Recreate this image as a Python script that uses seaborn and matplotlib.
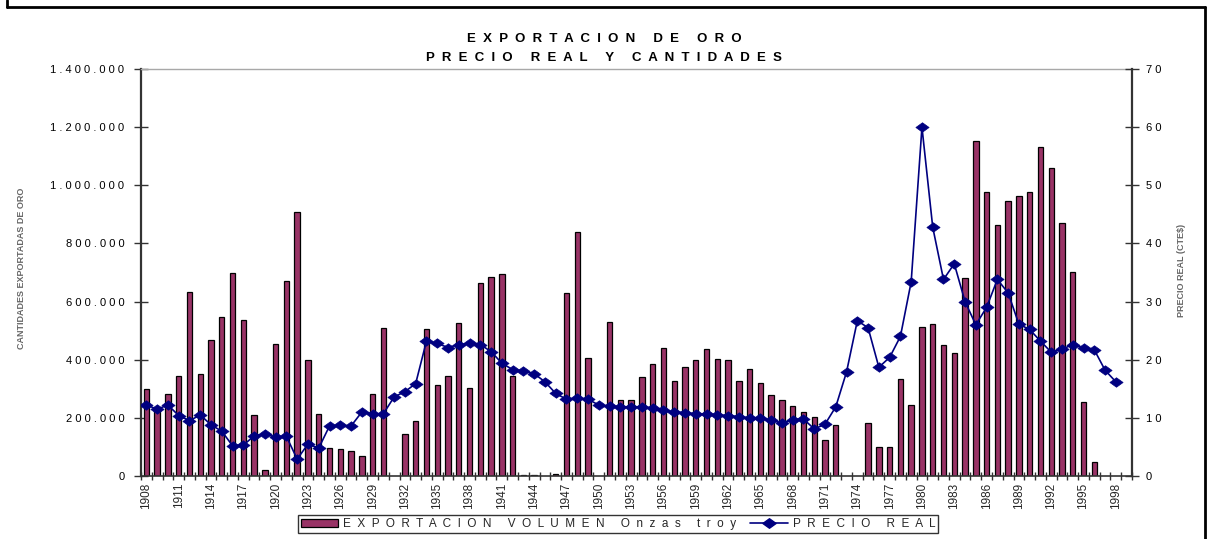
import numpy as np
import pandas as pd
import matplotlib
matplotlib.use("Agg")
import matplotlib.pyplot as plt
import seaborn as sns
from matplotlib.path import Path
from matplotlib.lines import Line2D
from matplotlib.patches import Patch

nan = np.nan
years = list(range(1908, 2000))
export_volume = [
    298000, 230000, 282000, 343000, 633000, 352000, 469000, 548000, 697000, 535000,   # 1908-1917
    210000, 20000, 454000, 672000, 908000, 400000, 213000, 97000, 92000, 86000,       # 1918-1927
    70000, 283000, 508000, nan, 144000, 190000, 507000, 312000, 343000, 525000,       # 1928-1937
    303000, 663000, 685000, 696000, 344000, 3000, 3000, nan, 8000, 628000,            # 1938-1947
    840000, 405000, nan, 529000, 261000, 261000, 342000, 384000, 439000, 327000,      # 1948-1957
    374000, 400000, 436000, 404000, 398000, 327000, 367000, 319000, 278000, 260000,   # 1958-1967
    241000, 219000, 203000, 124000, 174000, nan, nan, 181000, 99000, 99000,           # 1968-1977
    333000, 243000, 512000, 522000, 451000, 422000, 680000, 1152000, 978000, 863000,  # 1978-1987
    946000, 962000, 976000, 1131000, 1058000, 870000, 703000, 256000, 47000, nan,     # 1988-1997
    nan, nan,                                                                         # 1998-1999
]
real_price = [
    12.2, 11.5, 12.2, 10.4, 9.5, 10.5, 8.8, 7.7, 5.2, 5.3,
    6.9, 7.2, 6.7, 6.8, 2.9, 5.5, 4.8, 8.6, 8.7, 8.6,
    11.0, 10.7, 10.7, 13.6, 14.5, 15.9, 23.2, 22.8, 22.1, 22.6,
    22.8, 22.6, 21.4, 19.4, 18.3, 18.0, 17.6, 16.2, 14.2, 13.2,
    13.4, 13.2, 12.2, 12.0, 11.9, 11.9, 11.9, 11.7, 11.3, 11.0,
    10.9, 10.7, 10.6, 10.5, 10.4, 10.2, 10.0, 9.9, 9.6, 9.1,
    9.7, 9.8, 8.1, 8.9, 11.9, 17.9, 26.7, 25.5, 18.7, 20.4,
    24.0, 33.4, 60.0, 42.8, 33.8, 36.5, 30.0, 26.0, 29.0, 33.8,
    31.5, 26.1, 25.2, 23.2, 21.3, 21.8, 22.6, 22.0, 21.7, 18.2,
    16.2, nan,
]
left_ticks = [0, 200000, 400000, 600000, 800000, 1000000, 1200000, 1400000]
right_ticks = [0, 10, 20, 30, 40, 50, 60, 70]

title_lines = ["EXPORTACION DE ORO", "PRECIO REAL Y CANTIDADES"]
bar_label = "EXPORTACION VOLUMEN Onzas troy"
line_label = "PRECIO REAL"
left_axis_label = "CANTIDADES EXPORTADAS DE ORO"
right_axis_label = "PRECIO REAL (CTE$)"

BAR = "#993366"
NAVY = "#000080"
AXC = "#333333"

def spaced(text, gap=" "):
    return gap.join(list(text))

sns.set_theme(style="ticks")
plt.rcParams["font.family"] = ["Liberation Sans", "DejaVu Sans"]
NARROW = ["Liberation Sans Narrow", "DejaVu Sans Condensed", "Liberation Sans", "DejaVu Sans"]

W, H = 1208, 539
fig = plt.figure(figsize=(W / 100, H / 100), dpi=100)
fig.patch.set_facecolor("white")
ax = fig.add_axes([141 / W, 1 - 476 / H, (1132 - 141) / W, (476 - 69) / H])

df = pd.DataFrame({
    "year": [str(y) for y in years],
    "volume": export_volume,
    "price": real_price,
})
df["pos"] = np.arange(len(df))

sns.barplot(data=df, x="year", y="volume", order=list(df["year"]), color=BAR,
            saturation=1, width=0.5, edgecolor="black", linewidth=0.9,
            errorbar=None, ax=ax)

ax2 = ax.twinx()
diamond = Path([(-1, 0), (0, 0.72), (1, 0), (0, -0.72), (-1, 0)],
               [Path.MOVETO, Path.LINETO, Path.LINETO, Path.LINETO, Path.CLOSEPOLY])
sns.lineplot(data=df, x="pos", y="price", ax=ax2, color=NAVY, linewidth=1.2,
             marker=diamond, markersize=9.5, markerfacecolor=NAVY,
             markeredgecolor=NAVY, markeredgewidth=0.5)

ax.set_xlim(-0.5, len(years) - 0.5)
ax.set_ylim(0, 1400000)
ax2.set_ylim(0, 70)
ax.set_xlabel("")
ax.set_ylabel("")
ax2.set_xlabel("")
ax2.set_ylabel("")

# y ticks
ax.set_yticks(left_ticks)
ax.set_yticklabels([spaced(f"{v:,.0f}".replace(",", ".")) for v in left_ticks], fontsize=8)
ax2.set_yticks(right_ticks)
ax2.set_yticklabels([spaced(str(v)) for v in right_ticks], fontsize=8)
ax.tick_params(axis="y", which="major", direction="inout", length=10, width=1,
               color=AXC, pad=7, labelcolor="black")
ax2.tick_params(axis="y", which="major", direction="inout", length=10, width=1,
                color=AXC, pad=5, labelcolor="black")

# x ticks: labels every 3 years at category centres, tick marks between categories
label_idx = [i for i, y in enumerate(years) if (y - years[0]) % 3 == 0]
ax.set_xticks(label_idx)
ax.set_xticklabels([str(years[i]) for i in label_idx], rotation=90,
                   fontsize=8.5, family=NARROW)
ax.set_xticks(np.arange(-0.5, len(years), 1.0), minor=True)
ax.tick_params(axis="x", which="major", length=0, pad=5)
ax.tick_params(axis="x", which="minor", direction="inout", length=6, width=1, color=AXC)
ax2.tick_params(axis="x", which="both", length=0)

for a in (ax, ax2):
    a.grid(False)
    a.set_facecolor("none")
ax.spines["top"].set_visible(True)
ax.spines["top"].set_color("#a8a8a8")
ax.spines["top"].set_linewidth(1)
ax.spines["left"].set_color(AXC)
ax.spines["left"].set_linewidth(1.6)
ax.spines["bottom"].set_color(AXC)
ax.spines["bottom"].set_linewidth(1.2)
ax.spines["right"].set_visible(False)
ax2.spines["left"].set_visible(False)
ax2.spines["bottom"].set_visible(False)
ax2.spines["top"].set_visible(False)
ax2.spines["right"].set_visible(True)
ax2.spines["right"].set_color(AXC)
ax2.spines["right"].set_linewidth(1.6)

# titles
fig.text(604 / W, 1 - 39 / H, spaced(title_lines[0], "  "), ha="center", va="center",
         fontsize=9.5, fontweight="bold", color="black")
fig.text(604 / W, 1 - 58 / H, spaced(title_lines[1], "  "), ha="center", va="center",
         fontsize=9.5, fontweight="bold", color="black")

# axis labels
fig.text(22 / W, 1 - 268 / H, left_axis_label, rotation=90, ha="center", va="center",
         fontsize=6.5, fontweight="bold", color="#666666", family=NARROW)
fig.text(1182 / W, 1 - 270 / H, right_axis_label, rotation=90, ha="center", va="center",
         fontsize=6.5, fontweight="bold", color="#666666", family=NARROW)

# legend
handles = [
    Patch(facecolor=BAR, edgecolor="black", linewidth=0.9),
    Line2D([], [], color=NAVY, linewidth=1.2, marker=diamond, markersize=9.5,
           markerfacecolor=NAVY, markeredgecolor=NAVY),
]
labels = [spaced(bar_label, "  "), spaced(line_label, "  ")]
leg = fig.legend(handles, labels, loc="center", bbox_to_anchor=(618 / W, 1 - 524 / H),
                 ncol=2, frameon=True, fancybox=False, edgecolor="black", fontsize=8.5,
                 handlelength=3.2, handletextpad=0.4, columnspacing=1.2,
                 borderpad=0.25, borderaxespad=0)
leg.get_frame().set_linewidth(1.0)

# outer frame
for xs, ys in [([7, 7], [0, 7]), ([7, 1205], [7, 7]), ([1205, 1205], [7, 539])]:
    fig.add_artist(Line2D([x / W for x in xs], [1 - y / H for y in ys],
                          transform=fig.transFigure, color="black", linewidth=2))

fig.savefig("out.png", dpi=100, facecolor="white")
